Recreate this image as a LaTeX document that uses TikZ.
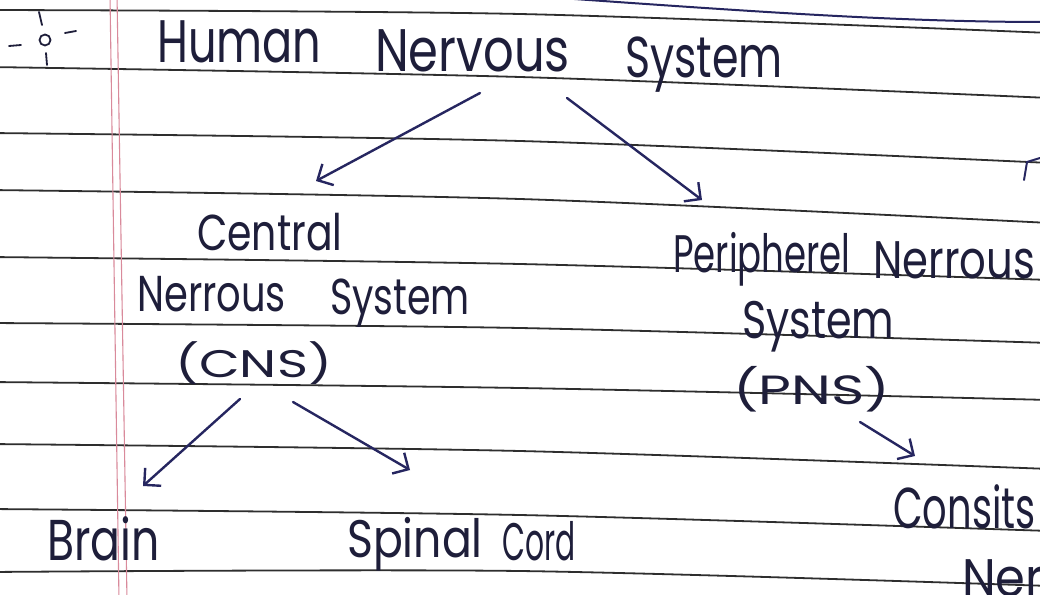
\documentclass[tikz,border=0pt]{standalone}
\usepackage{fontspec}
\setmainfont{Poppins}
\usetikzlibrary{arrows.meta}
\definecolor{ink}{HTML}{1E1E3A}
\definecolor{pen}{HTML}{262660}
\definecolor{rulecol}{HTML}{2E2E2E}
\definecolor{margincol}{HTML}{D98A9B}
\newcommand{\hw}[3]{\scalebox{#1}[#2]{#3}}
\tikzset{
  word/.style={anchor=base west, inner sep=0pt, text=ink, font=\fontsize{48}{56}\selectfont},
  ruled/.style={rulecol, line width=1.8pt},
  marg/.style={margincol, line width=1.1pt},
  arr/.style={pen, line width=2.4pt, line cap=round, -{Straight Barb[length=12pt, width=24pt, line width=2.4pt]}},
}
\begin{document}
\begin{tikzpicture}[x=1pt, y=-1pt]
\useasboundingbox (0,0) rectangle (1040,594);
\clip (0,0) rectangle (1040,594);
\fill[white] (0,0) rectangle (1040,594);
% ruled lines
\foreach \a/\b/\c in {10/14/33, 67/77/98, 133/141/163, 190/199/223, 257/264/280, 323/328/343, 382/388/400, 444/451/469, 509/515/531, 572/571/586}
  \draw[ruled] plot[smooth] coordinates {(-10,\a) (520,\b) (1050,\c)};
% margin
\draw[marg] (110,-5) -- (119,600);
\draw[marg] (117,-5) -- (127,600);
% blue stroke at top
\draw[pen, line width=2pt] (560,-2) .. controls (760,12) and (900,22) .. (1045,22);
% bulb icon
\draw[ink, line width=1.8pt] (45,40) circle (5.5);
\draw[ink, line width=1.8pt, line cap=round] (9,46) -- (21,45);
\draw[ink, line width=1.8pt, line cap=round] (65,33) -- (76,31);
\draw[ink, line width=1.8pt, line cap=round] (39,12) -- (42,25);
\draw[ink, line width=1.8pt, line cap=round] (46,53) -- (47,65);
% title
\node[word] (h1) at (157,63) {\hw{0.93}{1.25}{Human}};
\node[word] (h2) at (375,71) {\hw{1.0}{1.25}{Nervous}};
\node[word] (h3) at (625,77) {\hw{0.89}{1.2}{System}};
% CNS
\node[word] (c1) at (197,250) {\hw{0.82}{1.05}{Central}};
\node[word] (c2) at (137,311) {\hw{0.8}{1.05}{Nerrous}};
\node[word] (c3) at (330,314) {\hw{0.79}{1.05}{System}};
\node[word] (c4) at (175,377) {\hw{1.1}{0.8}{(CNS)}};
% PNS
\node[word] (p1) at (673,272) {\hw{0.74}{1.1}{Peripherel}};
\node[word] (p2) at (873,278) {\hw{0.87}{1.1}{Nerrous}};
\node[word] (p3) at (742,338) {\hw{0.86}{1.1}{System}};
\node[word] (p4) at (733,404) {\hw{1.18}{0.85}{(PNS)}};
% leaves
\node[word] (b1) at (47,560) {\hw{0.92}{1.2}{Brain}};
\node[word] (s1) at (347,557) {\hw{0.92}{1.1}{Spinal}};
\node[word] (s2) at (502,560) {\hw{0.62}{1.1}{Cord}};
\node[word] (k1) at (893,528) {\hw{0.8}{1.2}{Consits}};
\node[word] (k2) at (962,596) {\hw{1.0}{1.1}{Ner}};
% arrow end points
\coordinate (a1s) at (480,93);  \coordinate (a1e) at (316,181);
\coordinate (a2s) at (567,98);  \coordinate (a2e) at (702,200);
\coordinate (a3s) at (240,399); \coordinate (a3e) at (143,486);
\coordinate (a4s) at (293,402); \coordinate (a4e) at (410,470);
\coordinate (a5s) at (860,422); \coordinate (a5e) at (915,456);
\draw[arr] (a1s) -- (a1e);
\draw[arr] (a2s) -- (a2e);
\draw[arr] (a3s) -- (a3e);
\draw[arr] (a4s) -- (a4e);
\draw[arr] (a5s) -- (a5e);
% partial mark at right edge
\draw[pen, line width=2pt, line cap=round] (1024,180) -- (1027,162) -- (1040,158);
\end{tikzpicture}
\end{document}
